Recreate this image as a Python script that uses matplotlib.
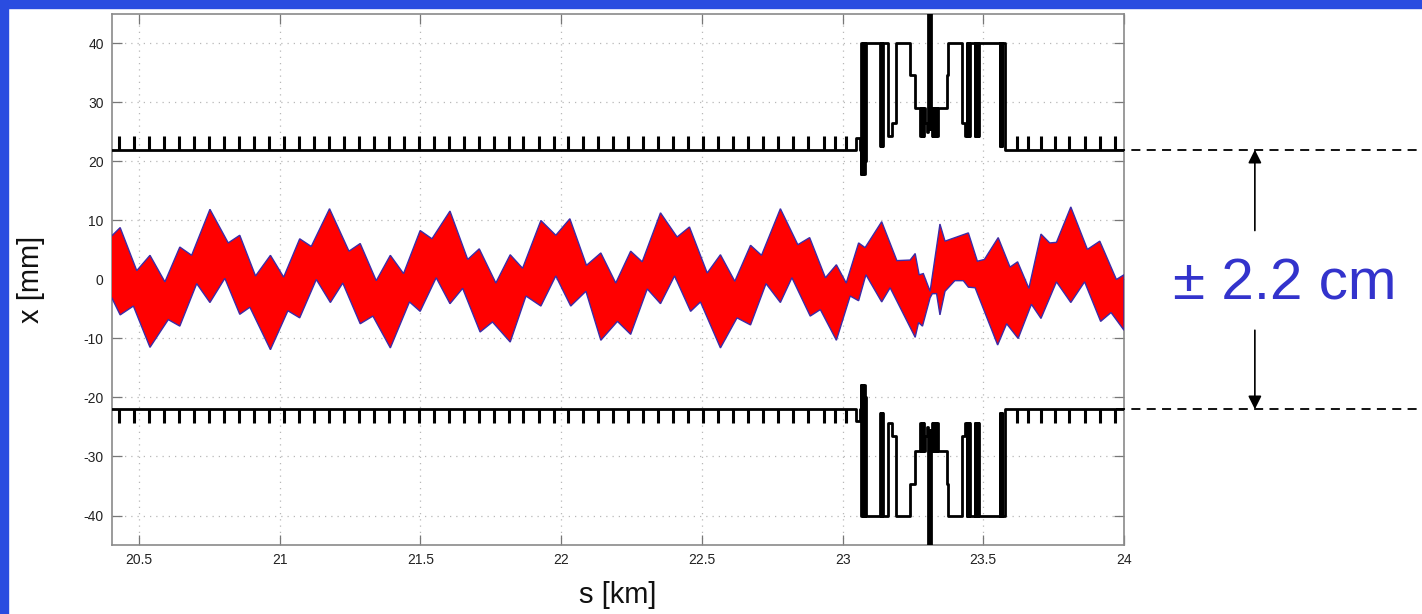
import numpy as np
import matplotlib.pyplot as plt
from matplotlib.patches import Rectangle

# ------------------------------------------------------
# DATA
# ------------------------------------------------------
# beam envelope, upper edge: s [km], x [mm]
up_s = [20.397, 20.433, 20.492, 20.539, 20.592, 20.645, 20.687, 20.752, 20.817, 20.858,
        20.914, 20.967, 21.014, 21.071, 21.112, 21.177, 21.246, 21.286,
        21.343, 21.393, 21.440, 21.499, 21.541, 21.605, 21.668, 21.709, 21.768, 21.819,
        21.863, 21.928, 21.981, 22.031, 22.090, 22.141,
        22.194, 22.247, 22.288, 22.353, 22.412, 22.456, 22.519, 22.566, 22.617, 22.673,
        22.712, 22.779, 22.841, 22.883, 22.939, 22.978, 23.013, 23.057,
        23.080, 23.139, 23.193, 23.240, 23.258, 23.272, 23.287, 23.311, 23.346, 23.364,
        23.447, 23.479, 23.504, 23.553, 23.595, 23.622, 23.662, 23.705, 23.736, 23.760,
        23.811, 23.870, 23.914, 23.973, 24.0]
up_x = [7.1, 8.8, 1.5, 4.1, -0.4, 5.5, 4.1, 11.9, 6.2, 7.5,
        0.6, 4.1, 0.4, 6.9, 5.6, 12.0, 4.8, 6.1,
        -0.2, 4.1, 1.0, 8.3, 6.9, 11.6, 3.4, 5.2, -0.6, 4.2,
        1.9, 10.0, 7.5, 10.3, 2.4, 4.5,
        -0.6, 4.8, 3.0, 11.3, 7.2, 8.9, 1.1, 4.2, -0.3, 5.8,
        4.1, 12.0, 5.9, 7.1, 0.3, 2.5, -0.6, 6.2,
        5.4, 9.8, 3.2, 3.3, 4.4, 0.8, 1.0, -2.0, 9.4, 6.5,
        7.9, 3.1, 3.4, 7.1, 2.1, 3.0, -1.5, 7.7, 6.2, 6.3,
        12.3, 5.1, 6.5, 0.0, 0.8]

# beam envelope, lower edge
low_s = [20.397, 20.433, 20.480, 20.539, 20.604, 20.645, 20.705, 20.752, 20.805, 20.858,
         20.894, 20.967, 21.029, 21.071, 21.130, 21.180, 21.224, 21.286,
         21.331, 21.393, 21.461, 21.499, 21.556, 21.605, 21.650, 21.712, 21.756, 21.819,
         21.875, 21.928, 21.981, 22.034, 22.088, 22.141,
         22.200, 22.247, 22.306, 22.353, 22.403, 22.460, 22.495, 22.566, 22.625, 22.673,
         22.728, 22.779, 22.820, 22.885, 22.921, 22.978, 23.027, 23.057,
         23.083, 23.139, 23.169, 23.258, 23.270, 23.284, 23.311, 23.319, 23.334, 23.346,
         23.364, 23.399, 23.429, 23.447, 23.471, 23.551, 23.583, 23.624, 23.671, 23.705,
         23.760, 23.811, 23.860, 23.917, 23.954, 24.0]
low_x = [-2.5, -6.0, -4.5, -11.5, -6.8, -7.9, -0.7, -3.9, 0.2, -5.9,
         -4.7, -11.9, -5.3, -6.5, 0.0, -3.9, -0.6, -7.5,
         -6.2, -11.6, -3.8, -5.4, 0.3, -4.1, -1.5, -8.9, -7.2, -10.6,
         -2.8, -4.5, 0.6, -4.5, -2.0, -10.3,
         -7.1, -9.3, -1.6, -4.1, 0.6, -5.4, -3.8, -11.6, -6.5, -7.7,
         -0.7, -3.9, 0.3, -6.2, -5.1, -10.3, -2.8, -3.6,
         0.8, -3.8, -1.4, -9.8, -7.3, -7.9, -3.1, -2.4, -2.4, -6.0,
         -2.0, -0.2, -0.2, -1.3, -1.4, -11.1, -7.5, -10.0, -4.2, -6.6,
         -0.4, -3.9, -0.4, -7.1, -5.6, -8.6]

# aperture half-width [mm], step profile (value holds from s until next s)
ap_s = [20.30, 23.047, 23.062,
        23.065, 23.067, 23.069, 23.071, 23.073, 23.075, 23.077, 23.079, 23.081, 23.083, 23.086,
        23.133, 23.135, 23.137, 23.139, 23.141, 23.143, 23.145,
        23.163, 23.176, 23.190,
        23.240, 23.258, 23.275, 23.278, 23.281, 23.284, 23.287, 23.290, 23.293,
        23.300, 23.304, 23.306, 23.311, 23.313, 23.316,
        23.320, 23.323, 23.326, 23.329, 23.332, 23.335, 23.340,
        23.370, 23.376,
        23.423, 23.435, 23.441, 23.443, 23.445, 23.447, 23.449, 23.451, 23.453,
        23.470, 23.472, 23.474, 23.476, 23.478, 23.480, 23.482, 23.486,
        23.558, 23.560, 23.562, 23.564, 23.566, 23.568, 23.577, 24.10]
ap_w = [22.0, 24.0, 22.0,
        17.8, 40.0, 17.8, 40.0, 18.5, 40.0, 17.8, 40.0, 20.0, 40.0, 40.0,
        22.6, 40.0, 22.6, 40.0, 22.6, 40.0, 40.0,
        24.3, 26.6, 40.0,
        34.7, 29.1, 24.3, 29.0, 24.3, 29.0, 24.3, 29.0, 26.6,
        25.0, 60.0, 25.5, 60.0, 25.5, 24.3,
        29.0, 24.3, 29.0, 24.3, 29.0, 24.3, 29.1,
        34.7, 40.0,
        26.6, 24.3, 40.0, 24.3, 40.0, 24.3, 40.0, 24.3, 40.0,
        24.3, 40.0, 24.3, 40.0, 24.3, 40.0, 24.3, 40.0,
        22.6, 40.0, 22.6, 40.0, 22.6, 40.0, 22.0, 22.0]

# short aperture markers along the arc
mark_s = [20.430, 20.483, 20.536, 20.590, 20.643, 20.696, 20.749, 20.802, 20.856, 20.909,
          20.962, 21.015, 21.068, 21.122, 21.175, 21.228, 21.281, 21.334, 21.388, 21.441,
          21.494, 21.547, 21.600, 21.654, 21.707, 21.760, 21.813, 21.866, 21.920, 21.973,
          22.026, 22.079, 22.132, 22.186, 22.239, 22.292, 22.345, 22.398, 22.452, 22.505,
          22.558, 22.611, 22.664, 22.718, 22.771, 22.824, 22.877, 22.933, 22.972, 23.012,
          23.621, 23.659, 23.706, 23.754, 23.804, 23.860, 23.914, 23.967]
mark_lo, mark_hi = 22.0, 24.3

xticks = [20.5, 21, 21.5, 22, 22.5, 23, 23.5, 24]
xticklabels = ["20.5", "21", "21.5", "22", "22.5", "23", "23.5", "24"]
yticks = [-40, -30, -20, -10, 0, 10, 20, 30, 40]

# ------------------------------------------------------
# PLOTTING
# ------------------------------------------------------
plt.rcParams['font.family'] = ['Liberation Sans', 'DejaVu Sans']
plt.rcParams['axes.unicode_minus'] = False
W, H = 1422, 614
fig = plt.figure(figsize=(W / 100, H / 100), dpi=100)
fig.patch.set_facecolor("white")

# blue slide border (top and left)
blue = "#2a4ce0"
fig.patches.append(Rectangle((0, 0), 8 / W, 1, transform=fig.transFigure, color=blue, zorder=0))
fig.patches.append(Rectangle((0, 1 - 8 / H), 1, 8 / H, transform=fig.transFigure, color=blue, zorder=0))

ax = fig.add_axes([112 / W, 1 - 545 / H, 1012 / W, 531 / H])

# beam envelope
env_s = np.concatenate([up_s, low_s[::-1]])
env_x = np.concatenate([up_x, low_x[::-1]])
ax.fill(env_s, env_x, facecolor="red", edgecolor="#3b2ca8", lw=1.0, zorder=3)

# aperture
ap_w = np.array(ap_w)
ax.step(ap_s, ap_w, where="post", color="black", lw=2.0, zorder=4)
ax.step(ap_s, -ap_w, where="post", color="black", lw=2.0, zorder=4)
ax.vlines(mark_s, mark_lo, mark_hi, color="black", lw=2.2, zorder=4)
ax.vlines(mark_s, -mark_hi, -mark_lo, color="black", lw=2.2, zorder=4)

# axes styling (matlab-like)
ax.set_xlim(20.404, 24.0)
ax.set_ylim(-45, 45)
ax.set_xticks(xticks)
ax.set_xticklabels(xticklabels)
ax.set_yticks(yticks)
ax.grid(True, linestyle=(0, (1, 4)), color="#b8b8b8", lw=0.9)
ax.tick_params(direction="in", length=7, width=0.9, color="#777777",
               top=True, right=True, labelsize=10, labelcolor="#222222", pad=6)
for sp in ax.spines.values():
    sp.set_color("#8a8a8a")
    sp.set_linewidth(1.2)

ax.set_xlabel("s [km]", fontsize=21, color="#111111")
ax.xaxis.set_label_coords(0.5, -0.068)
ax.set_ylabel("x [mm]", fontsize=21, color="#111111")
ax.yaxis.set_label_coords(-0.066, 0.5)

# annotation outside the axes
for y in (22, -22):
    ax.plot([23.97, 25.1], [y, y], color="black", lw=1.3, ls=(0, (5, 3.5)), clip_on=False, zorder=5)
ax.annotate("", xy=(24.465, 22), xytext=(24.465, 8.3), annotation_clip=False,
            arrowprops=dict(arrowstyle="-|>", mutation_scale=20, color="black", lw=1.2,
                            shrinkA=0, shrinkB=0))
ax.annotate("", xy=(24.465, -22), xytext=(24.465, -8.6), annotation_clip=False,
            arrowprops=dict(arrowstyle="-|>", mutation_scale=20, color="black", lw=1.2,
                            shrinkA=0, shrinkB=0))
fig.text(1285 / W, 1 - 284 / H, "± 2.2 cm", fontsize=42, color="#3333cc",
         ha="center", va="center")

fig.savefig("out.png", dpi=100)
